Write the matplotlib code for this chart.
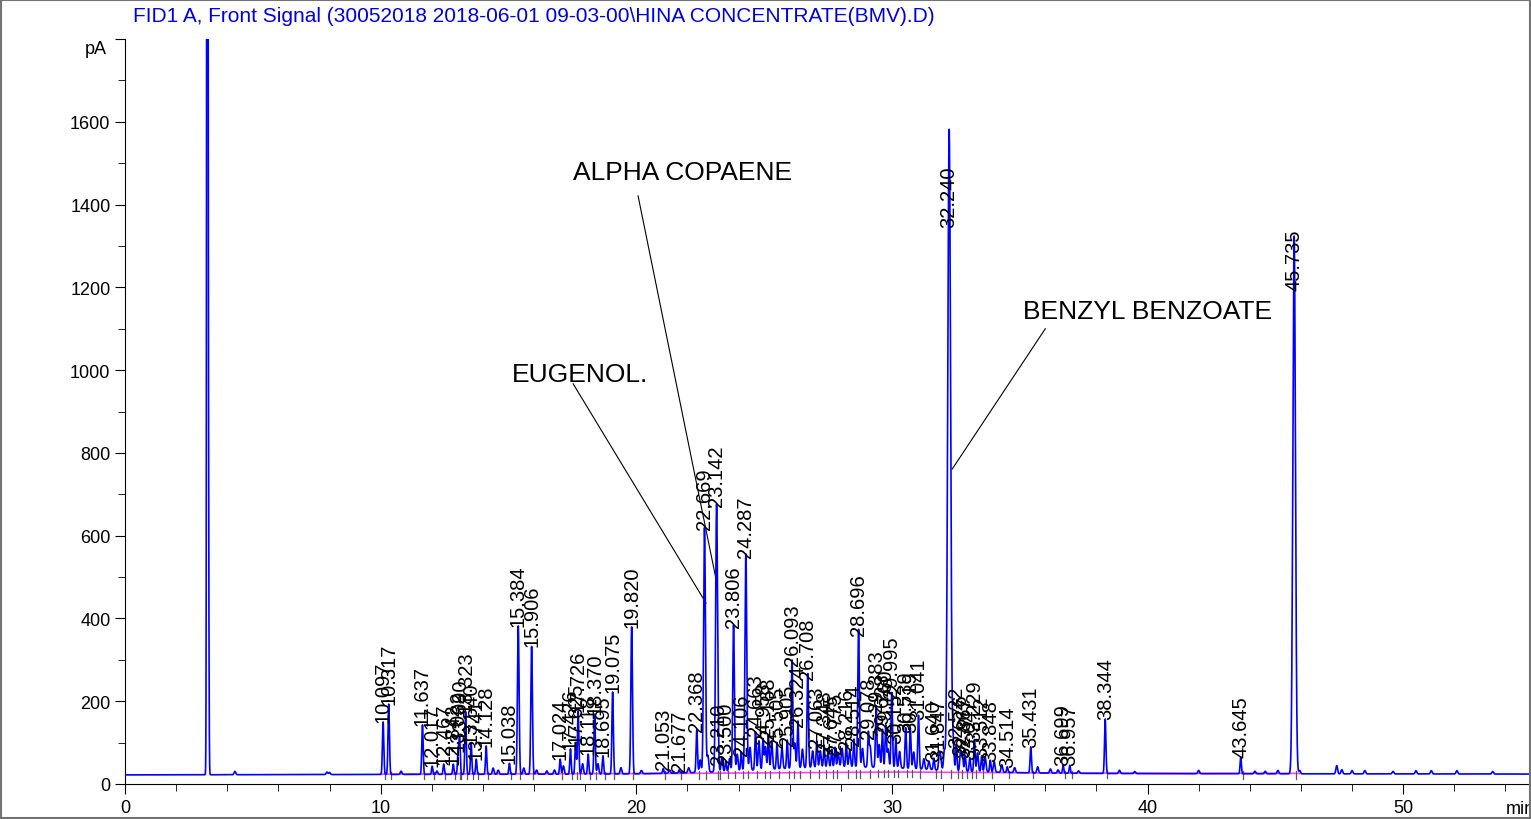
import numpy as np
import matplotlib.pyplot as plt
from matplotlib.patches import Rectangle

plt.rcParams['font.family'] = ['Liberation Sans', 'DejaVu Sans']

title = 'FID1 A, Front Signal (30052018 2018-06-01 09-03-00\\HINA CONCENTRATE(BMV).D)'

# labelled peaks: retention time (min), apex (pA), label
peak_t = [10.097, 10.317, 11.637, 12.017, 12.467, 12.842, 13.032, 13.090, 13.323,
          13.540, 13.741, 14.128, 15.038, 15.384, 15.906, 17.024, 17.426, 17.625,
          17.726, 18.118, 18.370, 18.695, 19.075, 19.820, 21.053, 21.677, 22.368,
          22.669, 23.142, 23.210, 23.500, 23.806, 24.106, 24.287, 24.663, 24.958,
          25.168, 25.505, 25.905, 26.093, 26.324, 26.708, 27.063, 27.348, 27.645,
          27.775, 28.216, 28.514, 28.696, 29.078, 29.383, 29.628, 29.760, 29.995,
          30.152, 30.539, 30.719, 31.041, 31.640, 31.847, 32.240, 32.522, 32.676,
          32.867, 33.047, 33.229, 33.512, 33.848, 34.514, 35.431, 36.699, 36.957,
          38.344, 43.645, 45.735]
peak_h = [150, 193, 143, 43, 48, 48, 80, 109, 175,
          100, 60, 92, 50, 382, 333, 60, 85, 100,
          176, 72, 169, 68, 222, 379, 36, 32, 128,
          616, 672, 48, 50, 379, 70, 549, 118, 100,
          110, 90, 95, 288, 140, 254, 90, 80, 70,
          75, 85, 95, 360, 110, 176, 120, 130, 210,
          100, 126, 126, 157, 55, 60, 1576, 90, 70,
          65, 60, 104, 65, 55, 40, 89, 45, 45,
          157, 65, 1324]
peak_lab = ['10.097', '10.317', '11.637', '12.017', '12.467', '12.842', '13.032', '13.090', '13.323',
            '13.540', '13.741', '14.128', '15.038', '15.384', '15.906', '17.024', '17.426', '17.625',
            '17.726', '18.118', '18.370', '18.695', '19.075', '19.820', '21.053', '21.677', '22.368',
            '22.669', '23.142', '23.210', '23.500', '23.806', '24.106', '24.287', '24.663', '24.958',
            '25.168', '25.505', '25.905', '26.093', '26.324', '26.708', '27.063', '27.348', '27.645',
            '27.775', '28.216', '28.514', '28.696', '29.078', '29.383', '29.628', '29.760', '29.995',
            '30.152', '30.539', '30.719', '31.041', '31.640', '31.847', '32.240', '32.522', '32.676',
            '32.867', '33.047', '33.229', '33.512', '33.848', '34.514', '35.431', '36.699', '36.957',
            '38.344', '43.645', '45.735']

# unlabelled small peaks: time (min), height above baseline (pA)
minor_t = [3.22, 3.26, 4.3, 7.9, 8.0, 10.8, 12.2, 14.4, 14.6, 15.6, 16.1, 16.5, 16.8, 17.15,
           17.9, 18.5, 19.4, 20.2, 21.3, 22.05, 22.5, 22.8, 23.35, 23.65, 23.95, 24.45,
           24.8, 25.05, 25.3, 25.7, 26.2, 26.5, 26.9, 27.2, 27.5, 27.9, 28.05, 28.35,
           28.85, 29.15, 29.5, 29.85, 30.3, 30.85, 31.25, 31.45, 31.9, 32.05, 32.4,
           32.75, 33.35, 33.65, 34.0, 34.3, 34.8, 35.7, 36.2, 36.5, 37.3, 38.9, 39.5,
           42.0, 44.2, 44.6, 45.1, 45.95, 47.4, 47.6, 48.0, 48.5, 49.6, 50.5, 51.1,
           52.1, 53.5]
minor_h = [5000, 700, 8, 6, 5, 8, 8, 15, 10, 15, 10, 8, 10, 20,
           25, 25, 15, 8, 8, 12, 30, 40, 35, 30, 40, 55,
           70, 55, 65, 50, 60, 45, 40, 40, 35, 35, 45, 40,
           45, 50, 55, 45, 40, 40, 25, 20, 35, 45, 60,
           45, 45, 35, 25, 18, 12, 15, 10, 8, 6, 8, 5,
           8, 6, 6, 8, 8, 20, 10, 8, 8, 6, 8, 8,
           8, 6]

# broad hump under the crowded part
hump_t = [28.0]
hump_h = [14]
hump_w = [3.2]

base_t = [0, 10, 20, 25, 30, 35, 40, 55]
base_v = [22, 23, 24, 26, 28, 26, 25, 24]

notes = ['ALPHA COPAENE', 'EUGENOL.', 'BENZYL BENZOATE']
note_xy = [(17.53, 1479), (15.14, 991), (35.13, 1143)]
note_from = [(20.07, 1421), (17.53, 967), (36.0, 1100)]
note_to = [(23.12, 495), (22.73, 437), (32.36, 761)]

t = np.arange(0, 55.001, 0.004)
base = np.interp(t, base_t, base_v)
sig = base.copy()
for pt, ph in zip(peak_t, peak_h):
    amp = ph - np.interp(pt, base_t, base_v)
    s = 0.024 + 0.00002 * ph
    sig += amp * np.exp(-0.5 * ((t - pt) / s) ** 2)
for pt, ph in zip(minor_t, minor_h):
    s = 0.032 if ph < 100 else 0.02
    sig += ph * np.exp(-0.5 * ((t - pt) / s) ** 2)
for pt, ph, w in zip(hump_t, hump_h, hump_w):
    sig += ph * np.exp(-0.5 * ((t - pt) / w) ** 2)

fig = plt.figure(figsize=(15.31, 8.2), dpi=100)
ax = fig.add_axes([125 / 1531, 1 - 785 / 820, 1 - 125 / 1531, 745 / 820])

# integration baseline and markers
m = (t >= 10.0) & (t <= 46.0)
ax.plot(t[m], base[m] + 1, color='#ff40ff', lw=1.2, zorder=2)
for pt in peak_t:
    b = np.interp(pt, base_t, base_v)
    ax.plot([pt + 0.07, pt + 0.07], [b - 12, b + 6], color='0.35', lw=0.9, zorder=2)

ax.plot(t, sig, color='#0000ff', lw=1.2, zorder=3)

for pt, ph, lab in zip(peak_t, peak_h, peak_lab):
    y = ph if ph < 1000 else 1000 + (ph - 1000) * 0.6
    ax.text(pt, y, lab, rotation=90, ha='center', va='bottom', fontsize=14.5,
            color='black', zorder=4)

for txt, xy, p0, p1 in zip(notes, note_xy, note_from, note_to):
    ax.text(xy[0], xy[1], txt, fontsize=19, ha='left', va='center')
    ax.plot([p0[0], p1[0]], [p0[1], p1[1]], color='black', lw=0.8)

ax.set_xlim(0, 55)
ax.set_ylim(0, 1800)
ax.spines['top'].set_visible(False)
ax.spines['right'].set_visible(False)
ax.set_xticks(np.arange(0, 51, 10))
ax.set_xticks(np.arange(0, 55, 2), minor=True)
ax.set_yticks(np.arange(0, 1801, 200))
ax.set_yticklabels([str(v) for v in range(0, 1601, 200)] + [''])
ax.set_yticks(np.arange(0, 1800, 100), minor=True)
ax.tick_params(axis='both', which='major', length=7, labelsize=13, direction='out')
ax.tick_params(axis='both', which='minor', length=5, direction='out')
ax.text(-0.7, 1776, 'pA', fontsize=13, ha='right', va='center')
ax.text(54.6, -60, 'min', fontsize=13, ha='center', va='center', clip_on=False)

fig.text(133 / 1531, 1 - 17 / 820, title, color='#0000e0', fontsize=15,
         ha='left', va='center')
fig.patches.append(Rectangle((0.0005, 0.001), 0.999, 0.998, transform=fig.transFigure,
                             fill=False, edgecolor='0.45', lw=1.5))

fig.savefig('out.png', dpi=100)
